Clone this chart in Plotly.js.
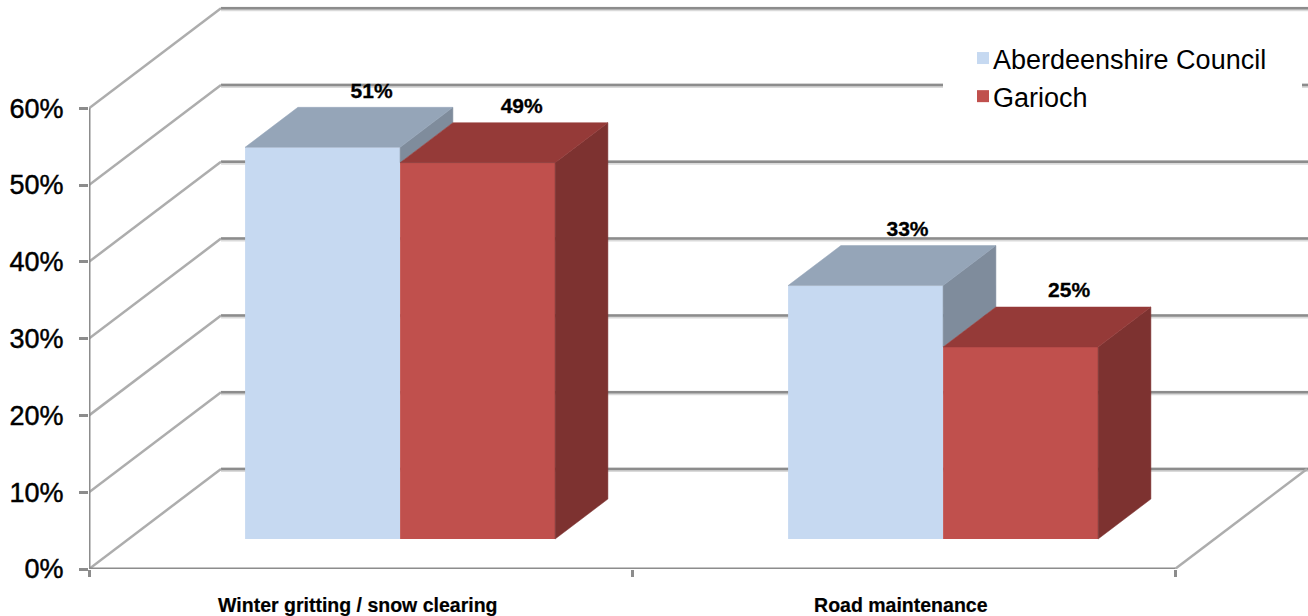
<!DOCTYPE html>
<html>
<head>
<meta charset="utf-8">
<script src="https://cdn.plot.ly/plotly-3.0.1.min.js"></script>
<style>
html,body{margin:0;padding:0;background:#fff;overflow:hidden}
#chart{width:1308px;height:616px}
.ytick text{stroke:#000;stroke-width:.45px}
.xtick text{stroke:#000;stroke-width:.2px}
.textpoint text{stroke:#000;stroke-width:.3px}
.legend .legendtext{transform:translateX(-10px)}
</style>
</head>
<body>
<div id="chart"></div>
<script>
// ---- data ----
const categories = ['Winter gritting / snow clearing', 'Road maintenance'];
const aberdeenshire = [51, 33];
const garioch = [49, 25];
const axisTicks = [0, 10, 20, 30, 40, 50, 60];
const axisLabels = ['0%', '10%', '20%', '30%', '40%', '50%', '60%'];

// ---- look ----
const seriesNames = ['Aberdeenshire Council', 'Garioch'];
const frontColors = ['#C6D9F1', '#C0504D'];
const topColors = ['#95A5B8', '#953A38'];
const sideColors = ['#7F8C9C', '#7D3230'];
const labelNudge = [[-0.007, -0.02], [-0.016, -0.008]];   // label offset from the bar top, in axis units

// ---- oblique projection, expressed in axis units ----
const PX_X = 543, PX_Y = 7.68;           // pixels per axis unit
const wallDx = 132 / PX_X, wallDy = 100 / PX_Y;   // shift of the back wall
const xMin = -0.5, xFloorEnd = 1.5, xMax = xMin + 1219 / PX_X, yMax = 569 / PX_Y;
const barFront = 0.30, barBack = 0.70, barW = 155 / PX_X;
const px = (x, d) => x + d * wallDx;
const py = (v, d) => v + d * wallDy;

const series = [aberdeenshire, garioch];
const traces = [];

// walls: diagonals and axis lines (none of them pass behind a bar)
const diagX = [], diagY = [];
axisTicks.forEach(t => { diagX.push(px(xMin, 0), px(xMin, 1), null); diagY.push(py(t, 0), py(t, 1), null); });
diagX.push(px(xFloorEnd, 0), px(xFloorEnd, 1)); diagY.push(0, py(0, 1));
traces.push({type:'scatter', mode:'lines', x:diagX, y:diagY, cliponaxis:false, showlegend:false, hoverinfo:'skip',
  line:{color:'#ADADAD', width:2.5}});
traces.push({type:'scatter', mode:'lines',
  x:[xMin, xMin, null, xMin, xFloorEnd],
  y:[axisTicks[axisTicks.length-1], 0, null, 0, 0],
  cliponaxis:false, showlegend:false, hoverinfo:'skip', line:{color:'#8C8C8C', width:3}});

// front faces: real bars
series.forEach((vals, s) => {
  traces.push({type:'bar', name:seriesNames[s],
    x:categories.map((c, i) => px(i, barFront)),
    y:vals, base:vals.map(() => py(0, barFront)),
    width:barW, offset:s === 0 ? -barW : 0,
    marker:{color:frontColors[s], line:{width:0}}, hoverinfo:'name+y'});
});

// top and side faces from the same values
function face(xs, ys, color) {
  traces.push({type:'scatter', mode:'lines', x:xs.concat(xs[0]), y:ys.concat(ys[0]), fill:'toself',
    fillcolor:color, line:{color:color, width:0.5}, showlegend:false, hoverinfo:'skip'});
}
series.forEach((vals, s) => {
  vals.forEach((v, i) => {
    const x0 = i + (s === 0 ? -barW : 0), x1 = x0 + barW;
    const next = s + 1 < series.length ? series[s + 1][i] : 0;
    face([px(x1, barFront), px(x1, barBack), px(x1, barBack), px(x1, barFront)],
         [py(v, barFront), py(v, barBack), py(next, barBack), py(next, barFront)], sideColors[s]);
    face([px(x0, barFront), px(x0, barBack), px(x1, barBack), px(x1, barFront)],
         [py(v, barFront), py(v, barBack), py(v, barBack), py(v, barFront)], topColors[s]);
  });
});

// value labels
series.forEach((vals, s) => {
  traces.push({type:'scatter', mode:'text', showlegend:false, hoverinfo:'skip', cliponaxis:false,
    x:vals.map((v, i) => px(i + (s === 0 ? -barW/2 : barW/2), barBack) + labelNudge[s][i]),
    y:vals.map(v => py(v, barBack) + 15 / PX_Y),
    text:vals.map(v => v + '%'), textposition:'middle center',
    textfont:{family:'Liberation Sans', size:21, color:'#000', weight:700}});
});

// back wall gridlines sit under the bars
const shapes = [];
axisTicks.forEach(t => {
  shapes.push({type:'line', layer:'below', xref:'x', yref:'y', x0:px(xMin,1), x1:xMax, y0:py(t,1)-0.1, y1:py(t,1)-0.1,
    line:{color:'#DADADA', width:4.5}});
  shapes.push({type:'line', layer:'below', xref:'x', yref:'y', x0:px(xMin,1), x1:xMax, y0:py(t,1), y1:py(t,1),
    line:{color:'#8C8C8C', width:2.5}});
});

const layout = {
  width:1308, height:616,
  margin:{l:89, r:0, t:0, b:47, pad:0},
  paper_bgcolor:'#fff', plot_bgcolor:'#fff',
  barmode:'overlay', shapes:shapes, showlegend:true,
  font:{family:'Liberation Sans', color:'#000'},
  xaxis:{type:'linear', range:[xMin, xMax], showgrid:false, zeroline:false, showline:false,
    tickmode:'array', tickvals:categories.map((c, i) => i - 0.005), ticktext:categories, ticks:'', ticklabelstandoff:22,
    tickangle:0, tickfont:{family:'Liberation Sans', size:19.5, color:'#000', weight:700},
    minor:{tickmode:'array', tickvals:[-0.5, 0.5, 1.5], ticks:'outside', ticklen:7, tickwidth:2.5, tickcolor:'#8C8C8C', showgrid:false}},
  yaxis:{range:[0, yMax], showgrid:false, zeroline:false, showline:false,
    tickmode:'array', tickvals:axisTicks, ticktext:axisLabels, ticks:'outside', ticklen:9, tickwidth:3, tickcolor:'#8C8C8C',
    ticklabelstandoff:10, tickfont:{family:'Liberation Sans', size:27, color:'#000'}},
  legend:{x:(943-89)/1219, xanchor:'left', y:1-14/569, yanchor:'top', bgcolor:'#fff', bordercolor:'#fff', borderwidth:20,
    font:{family:'Liberation Sans', size:27, color:'#000'}, traceorder:'normal', itemclick:false, itemdoubleclick:false},
  hovermode:'closest'
};

Plotly.newPlot('chart', traces, layout, {displayModeBar:false, responsive:false});
</script>
</body>
</html>
